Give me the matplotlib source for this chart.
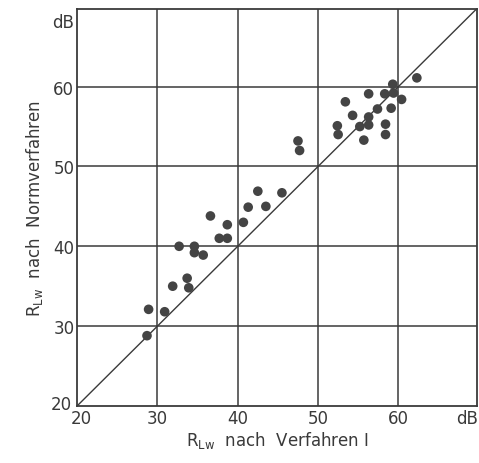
import matplotlib
matplotlib.use("Agg")
import matplotlib.pyplot as plt
import matplotlib.transforms as mtransforms

# R_Lw nach Verfahren I (x) and R_Lw nach Normverfahren (y), dB
x_vals = [62.3, 59.3, 56.3, 58.3, 59.4, 60.4, 53.4, 57.4, 59.1, 54.3,
          56.3, 52.4, 55.2, 56.3, 58.4, 52.5, 58.4, 55.7, 47.5, 47.7,
          42.5, 45.5, 41.3, 43.5, 36.6, 40.7, 38.7, 37.7, 38.7, 32.7,
          34.6, 34.6, 35.7, 33.7, 31.9, 33.9, 28.9, 30.9, 28.7]
y_vals = [61.1, 60.3, 59.1, 59.1, 59.2, 58.4, 58.1, 57.2, 57.3, 56.4,
          56.2, 55.1, 55.0, 55.2, 55.3, 54.0, 54.0, 53.3, 53.2, 52.0,
          46.9, 46.7, 44.9, 45.0, 43.8, 43.0, 42.7, 41.0, 41.0, 40.0,
          40.0, 39.2, 38.9, 36.0, 35.0, 34.8, 32.1, 31.8, 28.8]
ticks = [20, 30, 40, 50, 60]
tick_labels = ["20", "30", "40", "50", "60"]
unit_label = "dB"
xlabel = r"$\mathregular{R_{Lw}}$  nach  Verfahren I"
ylabel = r"$\mathregular{R_{Lw}}$  nach  Normverfahren"

ink = "#3a3a3a"
fig = plt.figure(figsize=(4.79, 4.64), dpi=100)
ax = fig.add_axes([0.161, 0.123, 0.835, 0.855])
lo, hi_x, hi_y = 20, 69.8, 69.7
ax.set_xlim(lo, hi_x)
ax.set_ylim(lo, hi_y)

for t in ticks[1:]:
    ax.axvline(t, color=ink, lw=1.1, zorder=1)
    ax.axhline(t, color=ink, lw=1.1, zorder=1)
ax.plot([lo, hi_x], [lo, hi_x], color=ink, lw=1.0, zorder=2)
ax.scatter(x_vals, y_vals, s=48, color="#444444", edgecolors="none", zorder=3)

for s in ax.spines.values():
    s.set_color(ink)
    s.set_linewidth(1.3)

ax.set_xticks(ticks + [68.5])
ax.set_xticklabels(tick_labels + [unit_label])
ax.set_yticks(ticks + [68.4])
ax.set_yticklabels(tick_labels + [unit_label])
ax.tick_params(length=0, labelsize=12, colors=ink, pad=2)
ax.set_xlabel(xlabel, fontsize=12, color=ink, labelpad=2)
ax.set_ylabel(ylabel, fontsize=12, color=ink, labelpad=4)

# nudge the corner labels apart so the two "20" do not collide
ylab0 = ax.get_yticklabels()[0]
ylab0.set_transform(ylab0.get_transform() +
                    mtransforms.ScaledTranslation(-2 / 72, 3 / 72, fig.dpi_scale_trans))
xlab0 = ax.get_xticklabels()[0]
xlab0.set_transform(xlab0.get_transform() +
                    mtransforms.ScaledTranslation(3 / 72, 0, fig.dpi_scale_trans))

fig.savefig("out.png", dpi=100)
